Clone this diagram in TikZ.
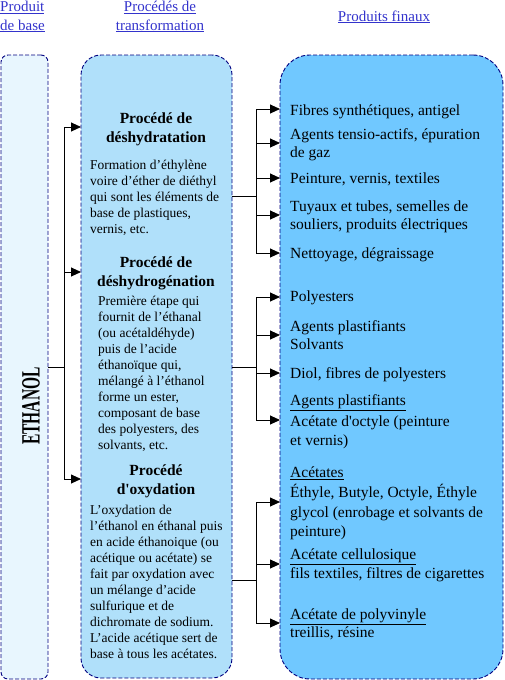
\documentclass[tikz,border=0pt]{standalone}
\usepackage{fontspec}
\setmainfont{Liberation Serif}[Ligatures={TeX,NoCommon}]
\usepackage{graphicx}
\usetikzlibrary{arrows.meta}
\definecolor{ethfill}{RGB}{232,246,254}
\definecolor{midfill}{RGB}{176,224,250}
\definecolor{finfill}{RGB}{112,200,255}
\definecolor{navy}{RGB}{0,0,128}
\definecolor{hblue}{RGB}{51,51,204}
\begin{document}
\begin{tikzpicture}[x=1pt,y=-1pt,
  box/.style={draw=navy, line width=0.9pt, dash pattern=on 4pt off 2pt, inner sep=0pt, outer sep=0pt},
  hdr/.style={text=hblue, inner sep=0pt, font=\fontsize{15}{19}\selectfont},
  rt/.style={anchor=base west, inner sep=0pt, font=\fontsize{15.5}{19}\selectfont},
  bd/.style={anchor=base west, inner sep=0pt, font=\fontsize{13.5}{16}\selectfont},
  hd/.style={anchor=base, inner sep=0pt, font=\bfseries\fontsize{15.5}{19}\selectfont},
  ln/.style={line width=0.9pt},
  arr/.style={line width=0.9pt, -{Triangle[length=10pt,width=9pt]}}]
\useasboundingbox (0,0) rectangle (505,680);

% boxes
\node[box, fill=ethfill, rounded corners=7pt, minimum width=47pt, minimum height=624pt] (eth) at (24.5,367) {};
\node[box, fill=midfill, rounded corners=20pt, minimum width=151pt, minimum height=623pt] (mid) at (156.5,366.5) {};
\node[box, fill=finfill, rounded corners=30pt, minimum width=223pt, minimum height=624pt] (fin) at (391.5,367) {};

% headers
\node[hdr, anchor=base west] (h1a) at (0,12) {\underline{Produit}};
\node[hdr, anchor=base west] (h1b) at (0,30) {\underline{de base}};
\node[hdr, anchor=base] (h2a) at (160,12) {\underline{Procédés de}};
\node[hdr, anchor=base] (h2b) at (160,30) {\underline{transformation}};
\node[hdr, anchor=base] (h3) at (384,21) {\underline{Produits finaux}};

% ethanol label
\node[rotate=90, inner sep=0pt, font=\bfseries\fontsize{15.5}{19}\selectfont] (ethl) at (31,406) {\scalebox{1}[1.7]{ETHANOL}};

% middle headings
\node[hd] (p1a) at (156,123) {Procédé de};
\node[hd] (p1b) at (156,142) {déshydratation};
\node[hd] (p2a) at (156,267) {Procédé de};
\node[hd] (p2b) at (156,286) {déshydrogénation};
\node[hd] (p3a) at (156,475) {Procédé};
\node[hd] (p3b) at (156,494) {d\textquotesingle oxydation};

% middle body 1
\node[bd] (b1a) at (90,169) {Formation d’éthylène};
\node[bd] (b1b) at (90,185) {voire d’éther de diéthyl};
\node[bd] (b1c) at (90,201) {qui sont les éléments de};
\node[bd] (b1d) at (90,217) {base de plastiques,};
\node[bd] (b1e) at (90,233) {vernis, etc.};

% middle body 2
\node[bd] (b2a) at (98,305) {Première étape qui};
\node[bd] (b2b) at (98,321) {fournit de l’éthanal};
\node[bd] (b2c) at (98,337) {(ou acétaldéhyde)};
\node[bd] (b2d) at (98,353) {puis de l’acide};
\node[bd] (b2e) at (98,369) {éthanoïque qui,};
\node[bd] (b2f) at (98,385) {mélangé à l’éthanol};
\node[bd] (b2g) at (98,401) {forme un ester,};
\node[bd] (b2h) at (98,417) {composant de base};
\node[bd] (b2i) at (98,433) {des polyesters, des};
\node[bd] (b2j) at (98,449) {solvants, etc.};

% middle body 3
\node[bd] (b3a) at (90,514) {L’oxydation de};
\node[bd] (b3b) at (90,530) {l’éthanol en éthanal puis};
\node[bd] (b3c) at (90,546) {en acide éthanoique (ou};
\node[bd] (b3d) at (90,562) {acétique ou acétate) se};
\node[bd] (b3e) at (90,578) {fait par oxydation avec};
\node[bd] (b3f) at (90,594) {un mélange d’acide};
\node[bd] (b3g) at (90,610) {sulfurique et de};
\node[bd] (b3h) at (90,626) {dichromate de sodium.};
\node[bd] (b3i) at (90,642) {L’acide acétique sert de};
\node[bd] (b3j) at (90,658) {base à tous les acétates.};

% right texts
\node[rt] (r1) at (290,115) {Fibres synthétiques, antigel};
\node[rt] (r2a) at (290,139) {Agents tensio-actifs, épuration};
\node[rt] (r2b) at (290,157.5) {de gaz};
\node[rt] (r3) at (290,183) {Peinture, vernis, textiles};
\node[rt] (r4a) at (290,211) {Tuyaux et tubes, semelles de};
\node[rt] (r4b) at (290,229.5) {souliers, produits électriques};
\node[rt] (r5) at (290,258) {Nettoyage, dégraissage};
\node[rt] (r6) at (290,301.5) {Polyesters};
\node[rt] (r7a) at (290,331.5) {Agents plastifiants};
\node[rt] (r7b) at (290,349.5) {Solvants};
\node[rt] (r8) at (290,378.5) {Diol, fibres de polyesters};
\node[rt] (r9a) at (290,405.5) {\underline{Agents plastifiants}};
\node[rt] (r9b) at (290,426.5) {Acétate d\textquotesingle octyle (peinture};
\node[rt] (r9c) at (290,445.5) {et vernis)};
\node[rt] (r10a) at (290,477.5) {\underline{Acétates}};
\node[rt] (r10b) at (290,497.5) {Éthyle, Butyle, Octyle, Éthyle};
\node[rt] (r10c) at (290,517.5) {glycol (enrobage et solvants de};
\node[rt] (r10d) at (290,536.5) {peinture)};
\node[rt] (r11a) at (290,559.5) {\underline{Acétate cellulosique}};
\node[rt] (r11b) at (290,578.5) {fils textiles, filtres de cigarettes};
\node[rt] (r12a) at (290,619.5) {\underline{Acétate de polyvinyle}};
\node[rt] (r12b) at (290,637.5) {treillis, résine};

% left fork
\coordinate (jL) at (64,367);
\coordinate (jLt) at (64,127);
\coordinate (jLm) at (64,272);
\coordinate (jLb) at (64,479);
\draw[ln] (eth.east |- jL) -- (jL);
\draw[ln] (jLt) -- (jLb);
\draw[arr] (jLt) -- (mid.west |- jLt);
\draw[arr] (jLm) -- (mid.west |- jLm);
\draw[arr] (jLb) -- (mid.west |- jLb);

% fork 1
\coordinate (j1) at (256,196);
\coordinate (j1a) at (256,109);
\coordinate (j1b) at (256,143);
\coordinate (j1c) at (256,178);
\coordinate (j1d) at (256,215);
\coordinate (j1e) at (256,253);
\draw[ln] (mid.east |- j1) -- (j1);
\draw[ln] (j1a) -- (j1e);
\foreach \c in {j1a,j1b,j1c,j1d,j1e} \draw[arr] (\c) -- (fin.west |- \c);

% fork 2
\coordinate (j2) at (256,367);
\coordinate (j2a) at (256,297);
\coordinate (j2b) at (256,335);
\coordinate (j2c) at (256,373);
\coordinate (j2d) at (256,420);
\draw[ln] (mid.east |- j2) -- (j2);
\draw[ln] (j2a) -- (j2d);
\foreach \c in {j2a,j2b,j2c,j2d} \draw[arr] (\c) -- (fin.west |- \c);

% fork 3
\coordinate (j3) at (256,580);
\coordinate (j3a) at (256,502);
\coordinate (j3b) at (256,564);
\coordinate (j3c) at (256,623);
\draw[ln] (mid.east |- j3) -- (j3);
\draw[ln] (j3a) -- (j3c);
\foreach \c in {j3a,j3b,j3c} \draw[arr] (\c) -- (fin.west |- \c);
\end{tikzpicture}
\end{document}
